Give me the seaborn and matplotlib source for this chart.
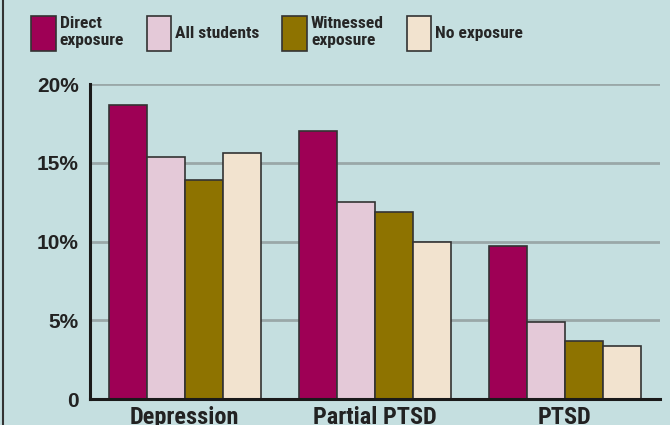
import numpy as np
import pandas as pd
import seaborn as sns
import matplotlib.pyplot as plt
from matplotlib.patches import Patch
from matplotlib.lines import Line2D

# Data (percent of students)
categories = ['Depression', 'Partial PTSD', 'PTSD']
groups = ['Direct\nexposure', 'All students', 'Witnessed\nexposure', 'No exposure']
direct = [18.7, 17.0, 9.7]
all_students = [15.4, 12.5, 4.9]
witnessed = [13.9, 11.9, 3.7]
no_exposure = [15.6, 10.0, 3.4]
colors = ['#9e0055', '#e4c9d8', '#8e7300', '#f2e3cf']
bg = '#c5dfe0'

df = pd.DataFrame({
    'Category': categories * 4,
    'Group': np.repeat(groups, 3),
    'Value': direct + all_students + witnessed + no_exposure,
})

sns.set_style('white')
plt.rcParams['font.family'] = ['Roboto Condensed', 'DejaVu Sans']

fig = plt.figure(figsize=(6.7, 4.25), dpi=100, facecolor=bg)
ax = fig.add_axes([0.134, 0.061, 0.851, 0.741])
ax.set_facecolor(bg)

sns.barplot(data=df, x='Category', y='Value', hue='Group', order=categories,
            hue_order=groups, palette=colors, width=0.8, edgecolor='#333333',
            linewidth=1.2, saturation=1, ax=ax, legend=False)

ax.set_ylim(0, 20)
ax.set_xlim(-0.5, 2.5)
ax.set_yticks([0, 5, 10, 15, 20])
ax.set_yticklabels(['0', '5%', '10%', '15%', '20%'], fontsize=15,
                   fontweight='bold', color='#222222', family='Liberation Sans')
ax.tick_params(axis='y', length=0, pad=8)
ax.tick_params(axis='x', length=0, pad=5)
for lab in ax.get_xticklabels():
    lab.set_fontsize(17.5)
    lab.set_fontweight('bold')
    lab.set_color('#222222')
ax.yaxis.grid(True, color='#9aa8a8', linewidth=2)
ax.set_axisbelow(True)
ax.set_xlabel('')
ax.set_ylabel('')
for s in ['top', 'right']:
    ax.spines[s].set_visible(False)
for s in ['left', 'bottom']:
    ax.spines[s].set_color('#1a1a1a')
    ax.spines[s].set_linewidth(2.2)

handles = [Patch(facecolor=c, edgecolor='#333333', linewidth=1.2) for c in colors]
fig.legend(handles, groups, loc='upper left', bbox_to_anchor=(0.036, 0.98),
           ncol=4, frameon=False, handlelength=1.4, handleheight=2.7,
           handletextpad=0.23, columnspacing=1.3, borderaxespad=0,
           prop={'family': 'Roboto Condensed', 'weight': 'bold', 'size': 12.6},
           labelspacing=0)

fig.add_artist(Line2D([0.004, 0.004], [0, 1], transform=fig.transFigure,
                      color='#333333', linewidth=1.5))

fig.savefig('out.png', dpi=100, facecolor=bg)
